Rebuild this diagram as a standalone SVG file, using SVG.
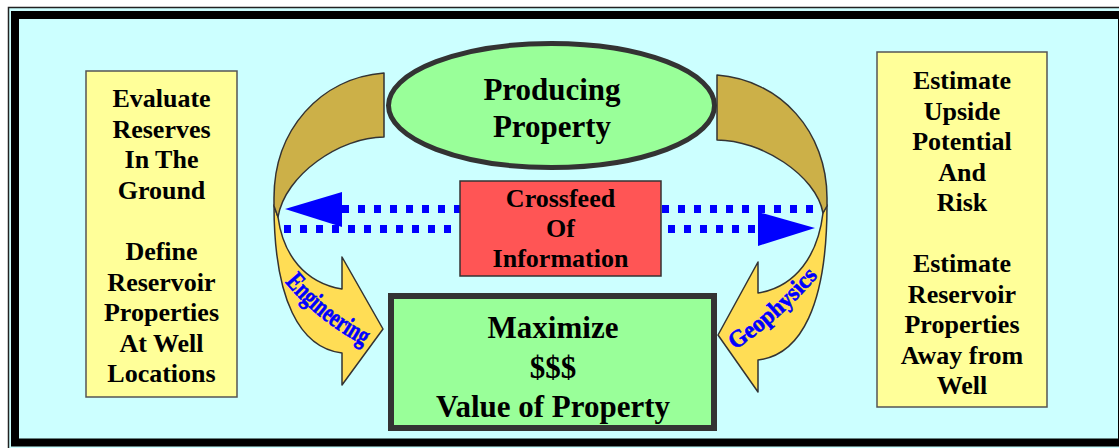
<svg xmlns="http://www.w3.org/2000/svg" width="1119" height="448" viewBox="0 0 1119 448">
<style>
.t{font-family:"Liberation Serif","Times New Roman",serif;font-weight:bold;fill:#000;text-anchor:middle}
.note{fill:#FFFF99;stroke:#555;stroke-width:1.5}
.back{fill:#CCB048;stroke:#333;stroke-width:1.5;stroke-linejoin:round}
.front{fill:#FFDD55;stroke:#333;stroke-width:1.5;stroke-linejoin:round}
.lbl{font-family:"Liberation Serif","Times New Roman",serif;font-weight:bold;fill:#0000FF;stroke:#0000FF;stroke-width:0.6}
.dots{stroke:#0000FF;stroke-width:8;stroke-dasharray:7 9;fill:none}
.head{fill:#0000FF}
</style>
<defs>
<path id="engPath" d="M283,280 Q316,321 370,349"/>
<path id="geoPath" d="M733,351 Q782,320 825,268"/>
</defs>
<rect width="1119" height="448" fill="#fff"/>
<rect x="8.5" y="7.5" width="1130" height="450" fill="#CCFFFF" stroke="#222" stroke-width="1.5"/>
<rect x="15" y="15" width="1107" height="427.5" fill="#CCFFFF" stroke="#000" stroke-width="8"/>

<g id="left-ribbon">
<path class="front" d="M274,205 C274,300 300,348 342,353 L342,385 L383,329 L342,257 L342,289 C305,283 283,255 278,217 Z"/>
<path class="back" d="M384,73 L384,137 C340,137 285,175 278,217 L274,206 L274,198 C274,130 320,78 384,73 Z"/>
<text class="lbl" font-size="27"><textPath href="#engPath" startOffset="3" textLength="102" lengthAdjust="spacingAndGlyphs">Engineering</textPath></text>
</g>
<g id="right-ribbon">
<path class="front" d="M827,205 C827,305 801,355 758,360 L758,392 L718,335 L758,262 L758,293 C796,287 818,255 823,213 Z"/>
<path class="back" d="M717,75 L717,140 C761,140 816,175 823,213 L827,206 L827,198 C827,132 781,80 717,75 Z"/>
<text class="lbl" font-size="24"><textPath href="#geoPath" startOffset="2" textLength="112" lengthAdjust="spacingAndGlyphs">Geophysics</textPath></text>
</g>

<g id="connectors">
<line class="dots" x1="342" y1="209" x2="815" y2="209"/>
<polygon class="head" points="285,209 342,192 342,227"/>
<line class="dots" x1="284" y1="229" x2="758" y2="229"/>
<polygon class="head" points="815,228 758,212 758,246"/>
</g>

<g id="left-note">
<rect class="note" x="86" y="71" width="151" height="326"/>
<g class="t" font-size="26">
<text x="161.5" y="107">Evaluate</text>
<text x="161.5" y="137.5">Reserves</text>
<text x="161.5" y="168">In The</text>
<text x="161.5" y="198.5">Ground</text>
<text x="161.5" y="260">Define</text>
<text x="161.5" y="290.5">Reservoir</text>
<text x="161.5" y="321">Properties</text>
<text x="161.5" y="351.5">At Well</text>
<text x="161.5" y="382">Locations</text>
</g>
</g>

<g id="right-note">
<rect class="note" x="877" y="52" width="170" height="355"/>
<g class="t" font-size="26">
<text x="962" y="89">Estimate</text>
<text x="962" y="119.5">Upside</text>
<text x="962" y="150">Potential</text>
<text x="962" y="180.5">And</text>
<text x="962" y="211">Risk</text>
<text x="962" y="272">Estimate</text>
<text x="962" y="302.5">Reservoir</text>
<text x="962" y="333">Properties</text>
<text x="962" y="363.5">Away from</text>
<text x="962" y="394">Well</text>
</g>
</g>

<g id="producing-property">
<ellipse cx="551.5" cy="105.5" rx="163" ry="62" fill="#99FF99" stroke="#333" stroke-width="5"/>
<g class="t" font-size="31">
<text x="552" y="100">Producing</text>
<text x="552" y="137">Property</text>
</g>
</g>

<g id="crossfeed">
<rect x="460" y="181" width="201" height="95" fill="#FF5555" stroke="#333" stroke-width="1.5"/>
<g class="t" font-size="26">
<text x="560.5" y="207">Crossfeed</text>
<text x="560.5" y="237">Of</text>
<text x="560.5" y="267">Information</text>
</g>
</g>

<g id="maximize">
<rect x="391" y="296" width="323" height="132" fill="#99FF99" stroke="#333" stroke-width="6"/>
<g class="t" font-size="31">
<text x="553" y="338">Maximize</text>
<text x="553" y="378">$$$</text>
<text x="553" y="417">Value of Property</text>
</g>
</g>
</svg>
